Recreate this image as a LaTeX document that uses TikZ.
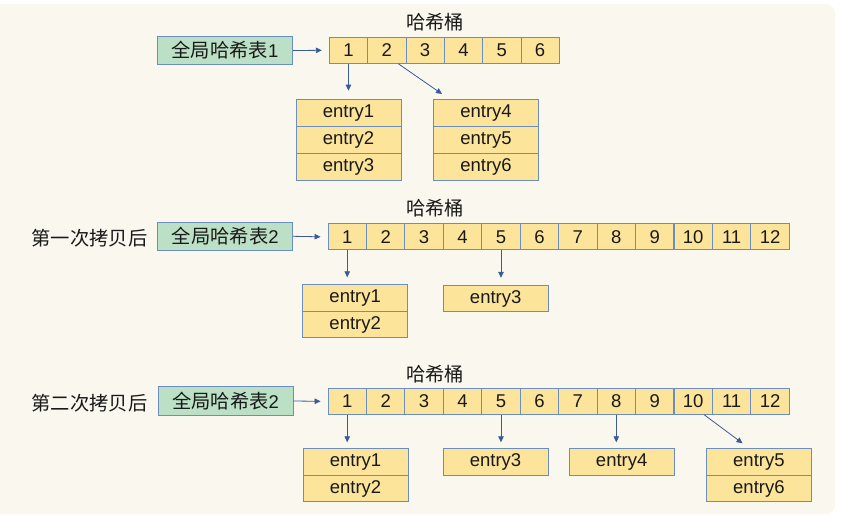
\documentclass[tikz,border=0pt]{standalone}
\usepackage{fontspec}
\setmainfont{Liberation Sans}
\newfontfamily\cjkfont{Noto Sans CJK SC}
\usetikzlibrary{arrows.meta}
\definecolor{bgc}{HTML}{FAF7EE}
\definecolor{yel}{HTML}{FDE49B}
\definecolor{grn}{HTML}{BCE0C6}
\definecolor{bord}{HTML}{6C8EBF}
\definecolor{arr}{HTML}{3B5A9A}
\newcommand\cj[1]{{\cjkfont\fontsize{19.3}{22}\selectfont #1}}
\begin{document}
\begin{tikzpicture}[x=1pt,y=-1pt,
  every node/.style={font=\fontsize{18.5}{21}\selectfont, text=black!90},
  cell/.style={draw=bord, fill=yel, line width=0.9pt, minimum width=105pt, minimum height=26.5pt, inner sep=0pt, anchor=north},
  bucket/.style={draw=bord, fill=yel, line width=0.9pt, minimum width=38.4pt, minimum height=26pt, inner sep=0pt},
  tab/.style={draw=bord, fill=grn, line width=0.9pt, minimum width=135pt, minimum height=28.5pt, inner sep=0pt},
  link/.style={draw=arr, line width=0.8pt, -{Triangle[length=6pt,width=5.5pt]}},
  lbl/.style={inner sep=0pt}
]
\clip (0,0) rectangle (844,517);
\fill[white] (0,0) rectangle (844,517);
\fill[bgc, rounded corners=9pt] (-20,4) rectangle (835,514);

% ---------- Row 1 ----------
\node[lbl] (h1) at (435,22) {\cj{哈希桶}};
\node[tab] (t1) at (225,50.5) {\cj{全局哈希表}1};
\foreach \i in {1,...,6}
  \node[bucket, minimum width=38.33pt] (a\i) at ({329.3+38.33*(\i-0.5)},50.3) {\i};
\node[cell, minimum height=27pt] (e11) at (348.5,98.7) {entry1};
\node[cell, minimum height=27pt] (e12) at (348.5,125.7) {entry2};
\node[cell, minimum height=27pt] (e13) at (348.5,152.7) {entry3};
\node[cell, minimum height=27pt] (e14) at (486,99) {entry4};
\node[cell, minimum height=27pt] (e15) at (486,126) {entry5};
\node[cell, minimum height=27pt] (e16) at (486,153) {entry6};
\draw[link] (t1.east) -- ([xshift=-7pt]a1.west);
\draw[link, shorten >=8pt] (a1.south) -- (a1.south |- e11.north);
\draw[link] ([xshift=11.5pt]a2.south) -- ([xshift=9pt,yshift=5pt]e14.north west);

% ---------- Row 2 ----------
\node[lbl] (h2) at (435,208) {\cj{哈希桶}};
\node[lbl] (s2) at (89.5,238) {\cj{第一次拷贝后}};
\node[tab] (t2) at (225.2,236.3) {\cj{全局哈希表}2};
\foreach \i in {1,...,12}
  \node[bucket] (b\i) at ({328+38.44*(\i-0.5)},236.8) {\i};
\node[cell] (e21) at (355.2,284.3) {entry1};
\node[cell] (e22) at (355.2,310.8) {entry2};
\node[cell] (e23) at (495.7,284.8) {entry3};
\draw[link] (t2.east) -- ([xshift=-7pt]b1.west);
\draw[link, shorten >=7pt] (b1.south) -- (b1.south |- e21.north);
\draw[link, shorten >=7pt] (b5.south) -- (b5.south |- e23.north);

% ---------- Row 3 ----------
\node[lbl] (h3) at (435,374) {\cj{哈希桶}};
\node[lbl] (s3) at (89.5,403) {\cj{第二次拷贝后}};
\node[tab] (t3) at (225.5,401) {\cj{全局哈希表}2};
\foreach \i in {1,...,12}
  \node[bucket] (c\i) at ({328+38.44*(\i-0.5)},401.3) {\i};
\node[cell] (e31) at (355.5,448.3) {entry1};
\node[cell] (e32) at (355.5,474.8) {entry2};
\node[cell] (e33) at (495.5,448.3) {entry3};
\node[cell] (e34) at (621.7,448.3) {entry4};
\node[cell] (e35) at (758.9,448.3) {entry5};
\node[cell] (e36) at (758.9,474.8) {entry6};
\draw[link] (t3.east) -- ([xshift=-7pt]c1.west);
\draw[link, shorten >=6pt] (c1.south) -- (c1.south |- e31.north);
\draw[link, shorten >=6pt] (c5.south) -- (c5.south |- e33.north);
\draw[link, shorten >=6pt] (c8.south) -- (c8.south |- e34.north);
\draw[link] ([xshift=11pt]c10.south) -- ([xshift=36.6pt,yshift=5pt]e35.north west);
\end{tikzpicture}
\end{document}
